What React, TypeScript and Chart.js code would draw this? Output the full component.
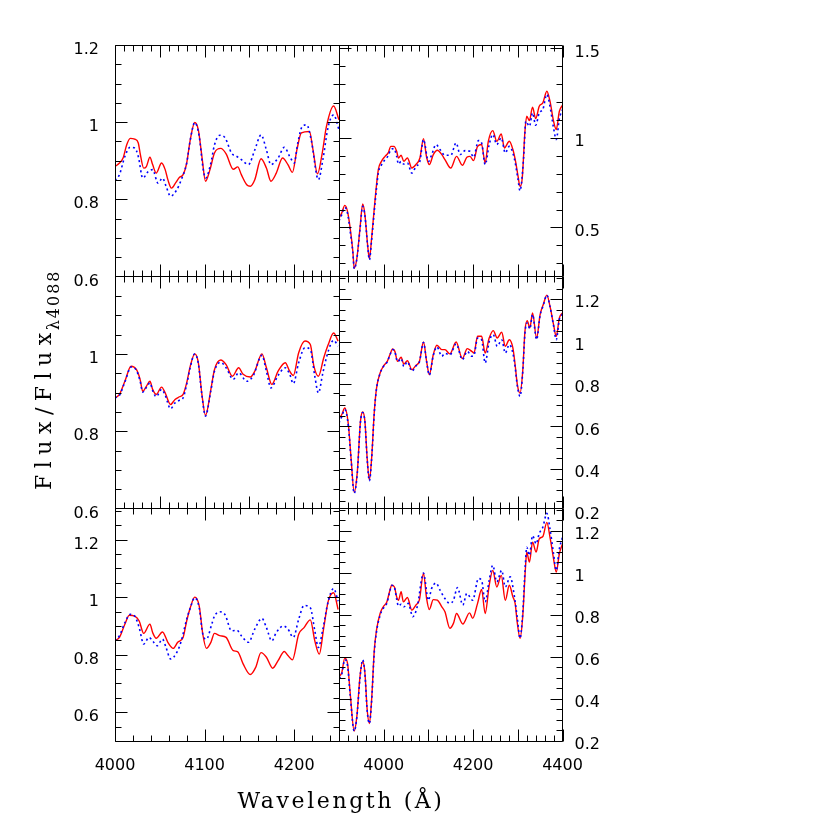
import React, { useEffect, useRef } from 'react';
import { Chart, registerables } from 'chart.js';

Chart.register(...registerables);

// ---------------- data ----------------
// top-left
const tlRedWave = [4000,4005,4009,4013,4017,4022,4026,4028,4032,4035,4039,4042,4046,4052,4056,4059,4063,4068,4072,4076,4080,4084,4089,4093,4097,4101,4106,4111,4118,4124,4132,4137,4141,4147,4151,4156,4163,4169,4174,4180,4187,4193,4198,4203,4208,4217,4221,4226,4231,4236,4244,4250];
const tlRedFlux = [0.885,0.894,0.907,0.941,0.958,0.956,0.946,0.92,0.881,0.885,0.909,0.89,0.868,0.894,0.877,0.851,0.829,0.844,0.857,0.864,0.894,0.954,0.999,0.98,0.911,0.847,0.877,0.92,0.932,0.918,0.878,0.884,0.864,0.838,0.834,0.851,0.905,0.881,0.847,0.868,0.907,0.89,0.87,0.928,0.972,0.976,0.928,0.866,0.916,0.989,1.042,1.006];
const tlBlueWave = [4000,4005,4011,4017,4022,4026,4031,4037,4042,4048,4053,4057,4062,4069,4074,4080,4084,4089,4094,4098,4101,4107,4111,4117,4123,4130,4136,4141,4149,4156,4163,4169,4174,4182,4189,4195,4200,4204,4209,4214,4219,4227,4232,4238,4244,4250];
const tlBlueFlux = [0.849,0.864,0.911,0.935,0.933,0.911,0.855,0.872,0.877,0.842,0.855,0.834,0.808,0.825,0.851,0.894,0.954,0.999,0.963,0.885,0.855,0.894,0.941,0.966,0.959,0.92,0.911,0.903,0.89,0.928,0.967,0.928,0.89,0.907,0.935,0.911,0.894,0.946,0.989,0.993,0.954,0.851,0.903,0.989,1.019,0.98];

// middle-left
const mlRedWave = [4000,4005,4011,4018,4024,4028,4031,4035,4039,4042,4046,4052,4056,4062,4067,4072,4076,4080,4084,4089,4093,4097,4101,4107,4111,4118,4124,4131,4138,4143,4151,4156,4164,4169,4175,4182,4190,4195,4199,4205,4212,4218,4222,4227,4233,4238,4244,4249];
const mlRedFlux = [0.886,0.895,0.929,0.968,0.959,0.934,0.903,0.916,0.929,0.908,0.895,0.914,0.899,0.869,0.882,0.889,0.895,0.925,0.968,1.0,0.977,0.895,0.841,0.908,0.959,0.984,0.972,0.942,0.964,0.947,0.94,0.955,1.0,0.964,0.921,0.955,0.977,0.955,0.944,1.003,1.033,1.024,0.968,0.942,0.99,1.024,1.054,1.033];
const mlBlueWave = [4000,4005,4011,4018,4024,4028,4031,4035,4039,4042,4046,4052,4056,4062,4067,4072,4076,4080,4084,4089,4093,4097,4101,4107,4111,4118,4124,4132,4138,4147,4154,4164,4169,4174,4182,4190,4195,4199,4205,4212,4218,4223,4227,4232,4238,4244,4249];
const mlBlueFlux = [0.886,0.893,0.927,0.966,0.957,0.93,0.901,0.913,0.925,0.905,0.889,0.908,0.893,0.858,0.873,0.88,0.886,0.921,0.965,1.0,0.975,0.893,0.839,0.905,0.955,0.978,0.964,0.934,0.951,0.929,0.942,0.996,0.955,0.912,0.944,0.964,0.947,0.923,0.977,1.016,1.011,0.942,0.899,0.951,1.007,1.035,1.02];

// bottom-left
const blRedWave = [4000,4005,4011,4016,4022,4027,4032,4039,4042,4046,4053,4059,4065,4070,4076,4080,4084,4089,4094,4098,4102,4107,4111,4117,4124,4132,4137,4143,4151,4157,4163,4169,4176,4182,4189,4193,4198,4205,4211,4218,4223,4228,4233,4238,4244,4249];
const blRedFlux = [0.848,0.86,0.906,0.937,0.934,0.917,0.874,0.906,0.877,0.857,0.879,0.843,0.822,0.843,0.86,0.917,0.963,1.0,0.969,0.871,0.822,0.843,0.874,0.866,0.86,0.814,0.81,0.768,0.731,0.756,0.807,0.791,0.753,0.779,0.811,0.797,0.782,0.871,0.894,0.921,0.848,0.802,0.894,0.986,1.015,0.957];
const blBlueWave = [4000,4005,4011,4017,4022,4027,4032,4038,4042,4047,4053,4057,4062,4069,4074,4080,4084,4089,4094,4098,4102,4108,4111,4117,4123,4130,4136,4141,4149,4156,4164,4169,4175,4180,4188,4193,4199,4205,4211,4218,4223,4227,4232,4238,4244,4249];
const blBlueFlux = [0.848,0.866,0.911,0.94,0.934,0.894,0.837,0.86,0.848,0.831,0.854,0.825,0.785,0.808,0.848,0.923,0.962,0.998,0.963,0.871,0.854,0.906,0.934,0.949,0.938,0.883,0.885,0.866,0.843,0.889,0.926,0.894,0.848,0.877,0.9,0.889,0.86,0.923,0.971,0.963,0.883,0.825,0.889,0.986,1.03,0.986];

// top-right
const trRedWave = [3900,3906,3913,3919,3925,3931,3934,3940,3947,3953,3958,3964,3968,3973,3981,3988,3995,4003,4010,4016,4023,4029,4033,4039,4045,4053,4063,4072,4081,4089,4096,4102,4111,4120,4130,4137,4150,4163,4176,4186,4193,4201,4210,4219,4227,4234,4244,4253,4263,4270,4281,4289,4295,4300,4305,4310,4316,4320,4326,4333,4340,4348,4356,4365,4372,4380,4386,4393,4400];
const trRedFlux = [0.552,0.58,0.623,0.59,0.496,0.366,0.272,0.328,0.496,0.631,0.571,0.403,0.325,0.44,0.664,0.823,0.869,0.897,0.916,0.953,0.953,0.925,0.888,0.903,0.869,0.888,0.832,0.851,0.888,0.996,0.892,0.851,0.907,0.931,0.907,0.879,0.832,0.897,0.847,0.892,0.897,0.873,0.953,0.963,0.86,0.981,1.041,0.981,1.022,0.944,0.981,0.935,0.869,0.795,0.729,0.776,1.037,1.121,1.097,1.172,1.108,1.177,1.196,1.261,1.205,1.093,1.047,1.149,1.183];
const trBlueWave = [3900,3906,3913,3919,3925,3931,3934,3940,3947,3953,3958,3964,3968,3973,3981,3988,3995,4003,4010,4016,4023,4029,4033,4039,4045,4053,4063,4072,4081,4089,4100,4107,4117,4126,4137,4150,4162,4171,4182,4193,4201,4212,4219,4227,4236,4244,4253,4263,4272,4281,4292,4300,4305,4313,4318,4326,4333,4340,4348,4356,4365,4372,4380,4386,4393,4400];
const trBlueFlux = [0.537,0.57,0.612,0.58,0.478,0.36,0.269,0.325,0.49,0.618,0.565,0.4,0.319,0.43,0.645,0.804,0.85,0.879,0.9,0.935,0.94,0.897,0.854,0.869,0.854,0.86,0.804,0.84,0.87,0.991,0.869,0.903,0.963,0.935,0.903,0.903,0.972,0.907,0.929,0.925,0.892,0.985,0.972,0.851,0.963,1.019,0.963,1.0,0.916,0.953,0.888,0.776,0.705,0.888,1.093,1.065,1.14,1.071,1.14,1.159,1.243,1.177,1.056,0.991,1.108,1.159];

// middle-right
const mrWave = [3900,3906,3913,3921,3927,3934,3941,3948,3953,3958,3963,3968,3973,3979,3984,3992,3999,4008,4014,4020,4025,4031,4039,4045,4053,4063,4072,4080,4089,4096,4102,4111,4119,4130,4137,4148,4162,4176,4187,4197,4202,4210,4219,4227,4236,4245,4254,4264,4272,4281,4289,4294,4299,4305,4311,4316,4321,4327,4333,4342,4350,4357,4365,4372,4380,4386,4393,4400];
const mrRedFlux = [0.639,0.655,0.687,0.608,0.45,0.29,0.387,0.624,0.668,0.624,0.45,0.348,0.45,0.671,0.781,0.852,0.883,0.907,0.939,0.965,0.954,0.907,0.926,0.894,0.91,0.868,0.888,0.907,0.998,0.907,0.844,0.939,0.983,0.962,0.962,0.942,0.998,0.92,0.967,0.954,0.946,1.025,1.025,0.946,1.017,1.052,1.017,1.044,0.978,1.009,0.97,0.891,0.797,0.757,0.86,1.049,1.099,1.065,1.135,1.017,1.128,1.175,1.219,1.167,1.08,1.025,1.112,1.135];
const mrBlueFlux = [0.616,0.645,0.68,0.6,0.445,0.285,0.38,0.62,0.665,0.62,0.445,0.343,0.445,0.665,0.778,0.85,0.881,0.905,0.937,0.962,0.952,0.905,0.92,0.883,0.905,0.86,0.885,0.905,0.996,0.905,0.842,0.935,0.975,0.931,0.945,0.937,0.989,0.915,0.954,0.931,0.935,1.017,1.009,0.899,1.0,1.033,0.978,1.009,0.946,0.986,0.946,0.88,0.79,0.742,0.855,1.04,1.088,1.06,1.128,1.009,1.125,1.17,1.219,1.165,1.075,1.009,1.105,1.13];

// bottom-right
const brRedWave = [3900,3906,3913,3919,3925,3934,3940,3947,3953,3958,3963,3968,3973,3979,3984,3992,3999,4007,4013,4018,4024,4029,4033,4039,4044,4053,4063,4072,4080,4089,4096,4102,4111,4120,4130,4137,4148,4156,4163,4177,4192,4199,4210,4219,4227,4236,4244,4253,4263,4272,4281,4289,4294,4299,4305,4311,4317,4320,4326,4333,4341,4348,4356,4365,4372,4380,4386,4393,4400];
const brRedFlux = [0.507,0.523,0.594,0.57,0.428,0.247,0.318,0.507,0.578,0.523,0.35,0.283,0.397,0.633,0.728,0.806,0.838,0.861,0.909,0.94,0.932,0.885,0.869,0.909,0.861,0.882,0.822,0.846,0.872,0.998,0.877,0.825,0.872,0.869,0.838,0.814,0.736,0.759,0.806,0.756,0.809,0.783,0.854,0.92,0.806,0.94,1.011,0.932,0.987,0.869,0.94,0.885,0.854,0.759,0.688,0.791,1.019,1.098,1.05,1.145,1.098,1.161,1.172,1.239,1.169,1.066,1.003,1.09,1.137];
const brBlueWave = [3900,3906,3913,3919,3925,3934,3940,3947,3953,3958,3963,3968,3973,3979,3984,3992,3999,4007,4013,4018,4024,4029,4033,4039,4045,4055,4065,4075,4089,4100,4107,4117,4126,4137,4148,4156,4165,4177,4186,4199,4212,4219,4227,4236,4244,4253,4264,4272,4283,4292,4299,4305,4311,4317,4320,4326,4333,4341,4348,4356,4365,4372,4380,4386,4393,4400];
const brBlueFlux = [0.499,0.515,0.586,0.56,0.42,0.247,0.315,0.5,0.586,0.52,0.345,0.283,0.39,0.625,0.72,0.798,0.83,0.855,0.905,0.94,0.93,0.875,0.841,0.85,0.838,0.854,0.791,0.838,0.998,0.869,0.924,0.951,0.917,0.877,0.854,0.869,0.929,0.846,0.901,0.869,0.972,0.964,0.861,0.964,1.035,0.956,1.011,0.932,0.98,0.893,0.783,0.688,0.806,1.043,1.121,1.082,1.176,1.137,1.187,1.216,1.282,1.208,1.09,1.011,1.113,1.169];

// tick labels
const leftWaveLabels = [4000, 4100, 4200];
const rightWaveLabels = [4000, 4200, 4400];
const tlFluxLabels = [0.6, 0.8, 1, 1.2];
const mlFluxLabels = [0.6, 0.8, 1];
const blFluxLabels = [0.6, 0.8, 1, 1.2];
const trFluxLabels = [0.5, 1, 1.5];
const mrFluxLabels = [0.2, 0.4, 0.6, 0.8, 1, 1.2];
const brFluxLabels = [0.2, 0.4, 0.6, 0.8, 1, 1.2];

const xTitle = 'Wavelength (Å)';
const yTitleMain = 'Flux/Flux';
const yTitleSub = 'λ4088';

// ---------------- layout ----------------
const SIZE = 830;
const COLS: [number, number][] = [[115, 339], [339, 562.5]];
const ROWS: [number, number][] = [[45, 276.5], [276.5, 508.5], [508.5, 741]];
const Y_AXIS_W = 60;
const X_AXIS_H = 40;
const TICK_FONT = { family: "'DejaVu Sans', sans-serif", size: 16 };

type Panel = {
  col: number; row: number;
  xMin: number; xMax: number; yMin: number; yMax: number;
  xLabels: number[] | null; yLabels: number[];
  xMinor: number; xMajor: number; yMinor: number; yMajor: number;
  redW: number[]; redF: number[]; blueW: number[]; blueF: number[];
  titles?: boolean;
};

const PANELS: Panel[] = [
  { col: 0, row: 0, xMin: 4000, xMax: 4250, yMin: 0.6, yMax: 1.2, xLabels: null, yLabels: tlFluxLabels, xMinor: 10, xMajor: 50, yMinor: 0.05, yMajor: 0.2, redW: tlRedWave, redF: tlRedFlux, blueW: tlBlueWave, blueF: tlBlueFlux },
  { col: 0, row: 1, xMin: 4000, xMax: 4250, yMin: 0.6, yMax: 1.2, xLabels: null, yLabels: mlFluxLabels, xMinor: 10, xMajor: 50, yMinor: 0.05, yMajor: 0.2, redW: mlRedWave, redF: mlRedFlux, blueW: mlBlueWave, blueF: mlBlueFlux },
  { col: 0, row: 2, xMin: 4000, xMax: 4250, yMin: 0.5, yMax: 1.308, xLabels: leftWaveLabels, yLabels: blFluxLabels, xMinor: 20, xMajor: 100, yMinor: 0.05, yMajor: 0.2, redW: blRedWave, redF: blRedFlux, blueW: blBlueWave, blueF: blBlueFlux, titles: true },
  { col: 1, row: 0, xMin: 3900, xMax: 4400, yMin: 0.226, yMax: 1.519, xLabels: null, yLabels: trFluxLabels, xMinor: 20, xMajor: 100, yMinor: 0.1, yMajor: 0.5, redW: trRedWave, redF: trRedFlux, blueW: trBlueWave, blueF: trBlueFlux },
  { col: 1, row: 1, xMin: 3900, xMax: 4400, yMin: 0.213, yMax: 1.307, xLabels: null, yLabels: mrFluxLabels, xMinor: 20, xMajor: 100, yMinor: 0.05, yMajor: 0.2, redW: mrWave, redF: mrRedFlux, blueW: mrWave, blueF: mrBlueFlux },
  { col: 1, row: 2, xMin: 3900, xMax: 4400, yMin: 0.2, yMax: 1.305, xLabels: rightWaveLabels, yLabels: brFluxLabels, xMinor: 20, xMajor: 100, yMinor: 0.05, yMajor: 0.2, redW: brRedWave, redF: brRedFlux, blueW: brBlueWave, blueF: brBlueFlux },
];

function zip(w: number[], f: number[]) {
  const n = Math.min(w.length, f.length);
  const out: { x: number; y: number }[] = [];
  for (let i = 0; i < n; i++) out.push({ x: w[i], y: f[i] });
  return out;
}

function tickValues(min: number, max: number, step: number) {
  const vals: number[] = [];
  const start = Math.ceil(min / step - 1e-6);
  const end = Math.floor(max / step + 1e-6);
  for (let k = start; k <= end; k++) vals.push(k * step);
  return vals;
}
function isMajor(v: number, major: number) {
  const r = v / major;
  return Math.abs(r - Math.round(r)) < 1e-6;
}

function framePlugin(p: Panel) {
  return {
    id: 'frameTicks',
    afterDraw(chart: any) {
      const { ctx, chartArea: a, scales } = chart;
      const xs = scales.x, ys = scales.y;
      const L = Math.floor(a.left) + 0.5, R = Math.floor(a.right) + 0.5;
      const T = Math.floor(a.top) + 0.5, B = Math.floor(a.bottom) + 0.5;
      ctx.save();
      ctx.strokeStyle = '#000';
      ctx.lineWidth = 1;
      ctx.beginPath();
      ctx.rect(L, T, R - L, B - T);
      for (const v of tickValues(p.xMin, p.xMax, p.xMinor)) {
        const len = isMajor(v, p.xMajor) ? 12 : 6;
        const px = Math.round(xs.getPixelForValue(v)) + 0.5;
        ctx.moveTo(px, B); ctx.lineTo(px, B - len);
        ctx.moveTo(px, T); ctx.lineTo(px, T + len);
      }
      for (const v of tickValues(p.yMin, p.yMax, p.yMinor)) {
        const len = isMajor(v, p.yMajor) ? 12 : 6;
        const py = Math.round(ys.getPixelForValue(v)) + 0.5;
        ctx.moveTo(L, py); ctx.lineTo(L + len, py);
        ctx.moveTo(R, py); ctx.lineTo(R - len, py);
      }
      ctx.stroke();

      if (p.titles) {
        ctx.fillStyle = '#000';
        ctx.textBaseline = 'alphabetic';
        // x title
        ctx.font = "22px 'DejaVu Serif', serif";
        (ctx as any).letterSpacing = '2.6px';
        ctx.textAlign = 'center';
        ctx.fillText(xTitle, 341, 808);
        // y title
        ctx.save();
        ctx.translate(51, 490);
        ctx.rotate(-Math.PI / 2);
        ctx.textAlign = 'left';
        ctx.font = "22px 'DejaVu Serif', serif";
        (ctx as any).letterSpacing = '6.5px';
        ctx.fillText(yTitleMain, 0, 0);
        const w = ctx.measureText(yTitleMain).width;
        ctx.font = "16px 'DejaVu Serif', serif";
        (ctx as any).letterSpacing = '2px';
        ctx.fillText(yTitleSub, w - 4, 8);
        ctx.restore();
        (ctx as any).letterSpacing = '0px';
      }
      ctx.restore();
    },
  };
}

function buildChart(canvas: HTMLCanvasElement, p: Panel) {
  const [x0, x1] = COLS[p.col];
  const [y0, y1] = ROWS[p.row];
  const isLeft = p.col === 0;
  const hasX = !!p.xLabels;
  const padding = {
    left: isLeft ? x0 - Y_AXIS_W : x0,
    right: isLeft ? SIZE - x1 : SIZE - x1 - Y_AXIS_W,
    top: y0,
    bottom: SIZE - y1 - (hasX ? X_AXIS_H : 0),
  };
  return new Chart(canvas, {
    type: 'line',
    data: {
      datasets: [
        {
          label: 'model B',
          data: zip(p.blueW, p.blueF),
          borderColor: '#0000ff',
          borderWidth: 1.6,
          borderDash: [2, 3],
          pointRadius: 0,
          fill: false,
          cubicInterpolationMode: 'monotone',
        },
        {
          label: 'model A',
          data: zip(p.redW, p.redF),
          borderColor: '#ff0000',
          borderWidth: 1.4,
          pointRadius: 0,
          fill: false,
          cubicInterpolationMode: 'monotone',
        },
      ],
    },
    options: {
      responsive: false,
      maintainAspectRatio: false,
      devicePixelRatio: 1,
      animation: false,
      events: [],
      layout: { padding },
      plugins: { legend: { display: false }, tooltip: { enabled: false } },
      scales: {
        x: {
          type: 'linear',
          position: 'bottom',
          min: p.xMin,
          max: p.xMax,
          display: hasX,
          afterFit: (s: any) => { s.height = hasX ? X_AXIS_H : 0; },
          afterBuildTicks: (s: any) => { if (p.xLabels) s.ticks = p.xLabels.map((v) => ({ value: v })); },
          grid: { display: false, drawTicks: false },
          border: { display: false },
          ticks: {
            color: '#000',
            font: TICK_FONT,
            padding: 15,
            autoSkip: false,
            maxRotation: 0,
            callback: (v: any) => String(v),
          },
        },
        y: {
          type: 'linear',
          position: isLeft ? 'left' : 'right',
          min: p.yMin,
          max: p.yMax,
          afterFit: (s: any) => { s.width = Y_AXIS_W; },
          afterBuildTicks: (s: any) => { s.ticks = p.yLabels.map((v) => ({ value: v })); },
          grid: { display: false, drawTicks: false },
          border: { display: false },
          ticks: {
            color: '#000',
            font: TICK_FONT,
            padding: isLeft ? 16 : 12,
            labelOffset: isLeft ? 5 : 4,
            autoSkip: false,
            callback: (v: any) => String(Math.round(v * 1000) / 1000),
          },
        },
      },
    },
    plugins: [framePlugin(p)],
  } as any);
}

function PanelCanvas({ p }: { p: Panel }) {
  const ref = useRef<HTMLCanvasElement | null>(null);
  useEffect(() => {
    if (!ref.current) return;
    const chart = buildChart(ref.current, p);
    return () => chart.destroy();
  }, [p]);
  return (
    <canvas
      ref={ref}
      width={SIZE}
      height={SIZE}
      style={{ position: 'absolute', left: 0, top: 0, width: SIZE, height: SIZE }}
    />
  );
}

export default function App() {
  return (
    <div style={{ position: 'absolute', left: 0, top: 0, width: SIZE, height: SIZE, background: '#fff', overflow: 'hidden' }}>
      {PANELS.map((p, i) => (
        <PanelCanvas key={i} p={p} />
      ))}
    </div>
  );
}
